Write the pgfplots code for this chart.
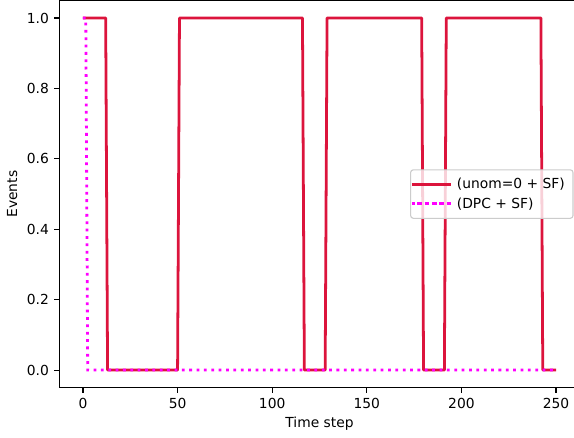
\documentclass[border=0pt]{standalone}
\usepackage{fontspec}
\setmainfont{DejaVu Sans}
\usepackage{pgfplots}
\pgfplotsset{compat=1.18}
\definecolor{crim}{HTML}{DC143C}
\definecolor{mag}{HTML}{FF00FF}
\definecolor{lgframe}{HTML}{CCCCCC}
\begin{document}
\begin{tikzpicture}
\begin{axis}[
  name=ax,
  at={(0,0)}, anchor=south west,
  scale only axis,
  width=370.5bp, height=278.8bp,
  xmin=-12.5, xmax=259.5,
  ymin=-0.05, ymax=1.05,
  axis lines=left,
  axis line style={-, line width=0.8bp, black},
  xtick={0,50,100,150,200,250},
  ytick={0,0.2,0.4,0.6,0.8,1.0},
  tick align=outside,
  major tick length=3.5bp,
  every tick/.style={black, line width=0.8bp},
  /pgf/number format/assume math mode=true,
  yticklabel style={/pgf/number format/fixed, /pgf/number format/fixed zerofill, /pgf/number format/precision=1, xshift=-0.5bp},
  xticklabel style={/pgf/number format/fixed, /pgf/number format/precision=0, yshift=-0.5bp},
  tick label style={font=\fontsize{10}{12}\selectfont},
  every axis x label/.style={at={(axis cs:125,-0.05)}, yshift=-26.2bp, anchor=center, font=\fontsize{10}{12}\selectfont},
  every axis y label/.style={at={(axis cs:-12.5,0.5)}, xshift=-34bp, rotate=90, anchor=center, font=\fontsize{10}{12}\selectfont},
  xlabel={Time step},
  ylabel={Events},
  legend cell align=left,
  legend image code/.code={\path (0bp,0bp) -- (27.8bp,0bp);\draw[#1, line width=2bp] (3.8bp,0bp) -- (27.5bp,0bp);},
  legend style={at={(rel axis cs:1,0.5)}, anchor=east, xshift=-0.3bp,
    draw=lgframe, line width=0.8bp, rounded corners=2bp, fill=white, fill opacity=0.8, text opacity=1,
    font=\fontsize{10}{12}\selectfont, inner xsep=0bp, inner ysep=4.4bp,
    row sep=2bp,
    nodes={inner xsep=3.5bp, inner ysep=1.5bp}},
]
\addplot[crim, line width=2bp, line join=round] coordinates {
(0,1) (12,1) (13,0) (50,0) (51,1) (116,1) (117,0) (128,0) (129,1)
(179,1) (180,0) (191,0) (192,1) (242,1) (243,0) (250,0)
};
\addlegendentry{(unom=0 + SF)\hspace*{2.5bp}}
\addplot[mag, line width=2bp, dash pattern=on 2bp off 3.3bp] coordinates {
(0,1) (1.5,1) (2.5,0) (250,0)
};
\addlegendentry{(DPC + SF)}
\draw[line width=0.8bp, black] (rel axis cs:0,1) -- (rel axis cs:1,1);
\end{axis}
\pgfresetboundingbox
\useasboundingbox (-42.7bp,-35.6bp) rectangle (370.5bp,279.1bp);
\end{tikzpicture}
\end{document}
